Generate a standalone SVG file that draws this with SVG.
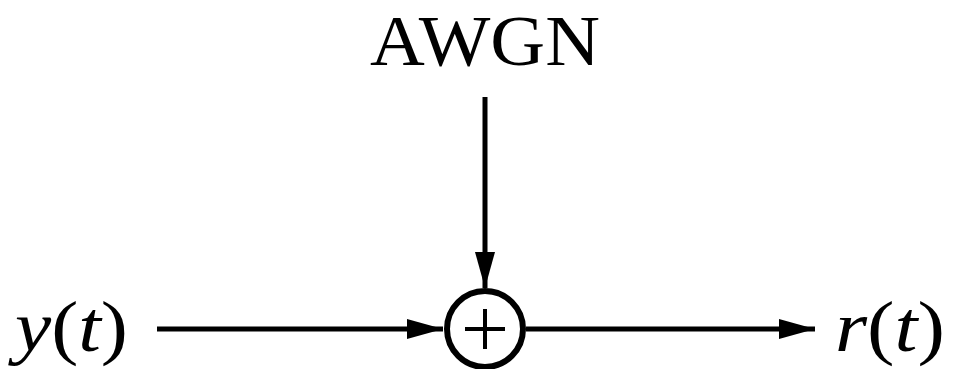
<svg xmlns="http://www.w3.org/2000/svg" width="953" height="369" viewBox="0 0 953 369">
<style>
.t{font-family:"Liberation Serif","Times New Roman",serif;font-size:72px;fill:#000}
.i{font-style:italic}
.c{stroke:#000;stroke-width:5;fill:none}
</style>
<defs>
<marker id="ah" markerUnits="userSpaceOnUse" markerWidth="36" markerHeight="20" refX="36" refY="10" orient="auto">
<path d="M0,0 L36,10 L0,20 Z" fill="#000"/>
</marker>
</defs>
<rect width="953" height="369" fill="#fff"/>
<g id="awgn"><text class="t" x="485" y="65" font-size="74" text-anchor="middle" textLength="230" lengthAdjust="spacingAndGlyphs">AWGN</text></g>
<g id="input"><text class="t" x="15" y="351" textLength="113" lengthAdjust="spacingAndGlyphs"><tspan class="i">y</tspan>(<tspan class="i">t</tspan>)</text></g>
<g id="output"><text class="t" x="835" y="351" textLength="110" lengthAdjust="spacingAndGlyphs"><tspan class="i">r</tspan>(<tspan class="i">t</tspan>)</text></g>
<g id="sum">
<circle cx="485" cy="329" r="38" fill="#fff" stroke="#000" stroke-width="6"/>
<path d="M465,329 H505 M485,309 V349" stroke="#000" stroke-width="4" fill="none"/>
</g>
<g id="connectors">
<path class="c" d="M485,97 V288" marker-end="url(#ah)"/>
<path class="c" d="M157,329 H443" marker-end="url(#ah)"/>
<path class="c" d="M526,329 H815" marker-end="url(#ah)"/>
</g>
</svg>
